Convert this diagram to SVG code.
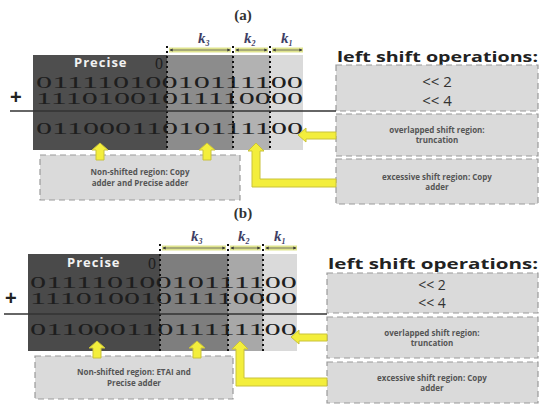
<svg xmlns="http://www.w3.org/2000/svg" width="540" height="406" viewBox="0 0 540 406">
<defs>
<marker id="dh" viewBox="0 0 6 6" refX="5" refY="3" markerWidth="4" markerHeight="4" orient="auto-start-reverse"><path d="M0,0 L6,3 L0,6 Z" fill="#333"/></marker>
<style>
.dark{fill:#4e4e4e}.med{fill:#8c8c8c}.lm{fill:#b2b2b2}.lt{fill:#dadada}
.dot{stroke:#111;stroke-width:2;stroke-dasharray:2 3;fill:none}
.dim{stroke:#dfe48e;stroke-width:5;fill:none}
.dimc{stroke:#555;stroke-width:0.8;fill:none;marker-start:url(#dh);marker-end:url(#dh)}
.k{font-family:"Liberation Serif",serif;font-style:italic;font-weight:bold;font-size:15px;fill:#3f3f66}
.ks{font-size:8px}
.bits{font-family:"Liberation Serif",serif;font-size:16px;fill:#1e1e1e}
.prec{font-family:"Open Sans","Liberation Sans",sans-serif;font-weight:bold;font-size:13px;fill:#f2f2f2;letter-spacing:1px}
.box{fill:#dadada;stroke:#9a9a9a;stroke-width:1.2;stroke-dasharray:6 4}
.ttl{font-family:"Open Sans","Liberation Sans",sans-serif;font-weight:bold;font-size:15px;fill:#222}
.sh{font-family:"Open Sans","Liberation Sans",sans-serif;font-size:15px;fill:#333;text-anchor:middle}
.sm{font-family:"Open Sans","Liberation Sans",sans-serif;font-weight:bold;font-size:8px;fill:#555;text-anchor:middle}
.yel{fill:#f3ee3c;stroke:#c9c23a;stroke-width:1}
.lbl{font-family:"Liberation Serif",serif;font-size:15px;font-weight:bold;fill:#333;text-anchor:middle}
.rule{stroke:#333;stroke-width:1.5}
</style>
</defs>

<!-- ===== Panel (a) ===== -->
<g id="label-a"><text class="lbl" x="243" y="20">(a)</text></g>
<g id="a-regions">
<rect class="dark" x="33" y="55" width="134" height="95"/>
<rect class="med" x="167" y="55" width="66" height="95"/>
<rect class="lm" x="233" y="55" width="37" height="95"/>
<rect class="lt" x="270" y="55" width="33" height="95"/>
</g>
<g id="a-k">
<text class="k" x="198" y="43">k<tspan class="ks" dy="3">3</tspan></text>
<text class="k" x="244" y="43">k<tspan class="ks" dy="3">2</tspan></text>
<text class="k" x="281" y="43">k<tspan class="ks" dy="3">1</tspan></text>
</g>
<g id="a-bits">
<text class="prec" x="74" y="67">Precise</text>
<text class="bits" x="155" y="69" font-size="16">0</text>
<text class="bits" x="36" y="88" textLength="267" lengthAdjust="spacingAndGlyphs">01111010010111100</text>
<text class="bits" x="36" y="104" textLength="267" lengthAdjust="spacingAndGlyphs">11101001011110000</text>
<text class="bits" x="36" y="134" textLength="267" lengthAdjust="spacingAndGlyphs">01100011010111100</text>
<text x="10" y="104" font-family="Liberation Sans,sans-serif" font-size="20" font-weight="bold" fill="#222">+</text>
</g>
<g id="a-title"><text class="ttl" x="337" y="62" textLength="201" lengthAdjust="spacingAndGlyphs">left shift operations:</text></g>
<g id="a-box-ops">
<rect class="box" x="336" y="65" width="202" height="46"/>
<text class="sh" x="437" y="87">&lt;&lt; 2</text>
<text class="sh" x="437" y="106">&lt;&lt; 4</text>
</g>
<g id="a-box-overlap">
<rect class="box" x="336" y="114" width="202" height="42"/>
<text class="sm" x="437" y="133">overlapped shift region:</text>
<text class="sm" x="437" y="143">truncation</text>
</g>
<g id="a-box-excess">
<rect class="box" x="336" y="159" width="202" height="45"/>
<text class="sm" x="437" y="180">excessive shift region: Copy</text>
<text class="sm" x="437" y="190">adder</text>
</g>
<g id="a-box-nonshift">
<rect class="box" x="40" y="155" width="200" height="45"/>
<text class="sm" x="140" y="175">Non-shifted region: Copy</text>
<text class="sm" x="140" y="186">adder and Precise adder</text>
</g>

<!-- ===== Panel (b) ===== -->
<g id="label-b"><text class="lbl" x="243" y="218">(b)</text></g>
<g id="b-regions">
<rect class="dark" x="28" y="254" width="132" height="97" style="fill:#4a4a4a"/>
<rect class="med" x="160" y="254" width="68" height="97" style="fill:#7e7e7e"/>
<rect class="lm" x="228" y="254" width="35" height="97" style="fill:#a8a8a8"/>
<rect class="lt" x="263" y="254" width="34" height="97"/>
</g>
<g id="b-k">
<text class="k" x="191" y="241">k<tspan class="ks" dy="3">3</tspan></text>
<text class="k" x="238" y="241">k<tspan class="ks" dy="3">2</tspan></text>
<text class="k" x="274" y="241">k<tspan class="ks" dy="3">1</tspan></text>
</g>
<g id="b-bits">
<text class="prec" x="67" y="267">Precise</text>
<text class="bits" x="148" y="269" font-size="16">0</text>
<text class="bits" x="30" y="288" textLength="267" lengthAdjust="spacingAndGlyphs">01111010010111100</text>
<text class="bits" x="30" y="304" textLength="267" lengthAdjust="spacingAndGlyphs">11101001011110000</text>
<text class="bits" x="30" y="335" textLength="267" lengthAdjust="spacingAndGlyphs">01100011011111100</text>
<text x="5" y="305" font-family="Liberation Sans,sans-serif" font-size="20" font-weight="bold" fill="#222">+</text>
</g>
<g id="b-title"><text class="ttl" x="328" y="269" textLength="210" lengthAdjust="spacingAndGlyphs">left shift operations:</text></g>
<g id="b-box-ops">
<rect class="box" x="327" y="273" width="211" height="40"/>
<text class="sh" x="432" y="290" style="font-size:14px">&lt;&lt; 2</text>
<text class="sh" x="432" y="308" style="font-size:14px">&lt;&lt; 4</text>
</g>
<g id="b-box-overlap">
<rect class="box" x="327" y="317" width="211" height="41"/>
<text class="sm" x="432" y="336">overlapped shift region:</text>
<text class="sm" x="432" y="346">truncation</text>
</g>
<g id="b-box-excess">
<rect class="box" x="327" y="362" width="211" height="41"/>
<text class="sm" x="432" y="381">excessive shift region: Copy</text>
<text class="sm" x="432" y="391">adder</text>
</g>
<g id="b-box-nonshift">
<rect class="box" x="35" y="356" width="198" height="43"/>
<text class="sm" x="134" y="375">Non-shifted region: ETAI and</text>
<text class="sm" x="134" y="386">Precise adder</text>
</g>

<!-- ===== Connectors ===== -->
<g id="connectors">
<!-- (a) -->
<line class="dot" x1="167" y1="46" x2="167" y2="151"/>
<line class="dot" x1="233" y1="46" x2="233" y2="151"/>
<line class="dot" x1="270" y1="46" x2="270" y2="151"/>
<line class="dim" x1="169" y1="50" x2="231" y2="50"/>
<line class="dim" x1="235" y1="50" x2="268" y2="50"/>
<line class="dim" x1="272" y1="50" x2="303" y2="50"/>
<line class="dimc" x1="170" y1="50" x2="230" y2="50"/>
<line class="dimc" x1="236" y1="50" x2="267" y2="50"/>
<line class="dimc" x1="273" y1="50" x2="302" y2="50"/>
<line class="rule" x1="10" y1="111" x2="336" y2="111"/>
<polygon class="yel" points="100,143 108,150 104,150 104,160 96,160 96,150 92,150"/>
<polygon class="yel" points="207,143 215,150 211,150 211,160 203,160 203,150 199,150"/>
<polygon class="yel" points="256,143 264,151 260,151 260,179 336,179 336,187 252,187 252,151 248,151"/>
<polygon class="yel" points="298,135 306,128 306,132 336,132 336,139 306,139 306,142"/>
<!-- (b) -->
<line class="dot" x1="160" y1="244" x2="160" y2="352"/>
<line class="dot" x1="228" y1="244" x2="228" y2="352"/>
<line class="dot" x1="263" y1="244" x2="263" y2="352"/>
<line class="dim" x1="162" y1="248" x2="226" y2="248"/>
<line class="dim" x1="230" y1="248" x2="261" y2="248"/>
<line class="dim" x1="265" y1="248" x2="297" y2="248"/>
<line class="dimc" x1="163" y1="248" x2="225" y2="248"/>
<line class="dimc" x1="231" y1="248" x2="260" y2="248"/>
<line class="dimc" x1="266" y1="248" x2="296" y2="248"/>
<line class="rule" x1="4" y1="314" x2="327" y2="314"/>
<polygon class="yel" points="97,341 105,348 101,348 101,358 93,358 93,348 89,348"/>
<polygon class="yel" points="197,341 205,348 201,348 201,358 193,358 193,348 189,348"/>
<polygon class="yel" points="240,341 248,349 244,349 244,378 327,378 327,386 236,386 236,349 232,349"/>
<polygon class="yel" points="291,337 299,330 299,334 327,334 327,341 299,341 299,344"/>
</g>
</svg>
